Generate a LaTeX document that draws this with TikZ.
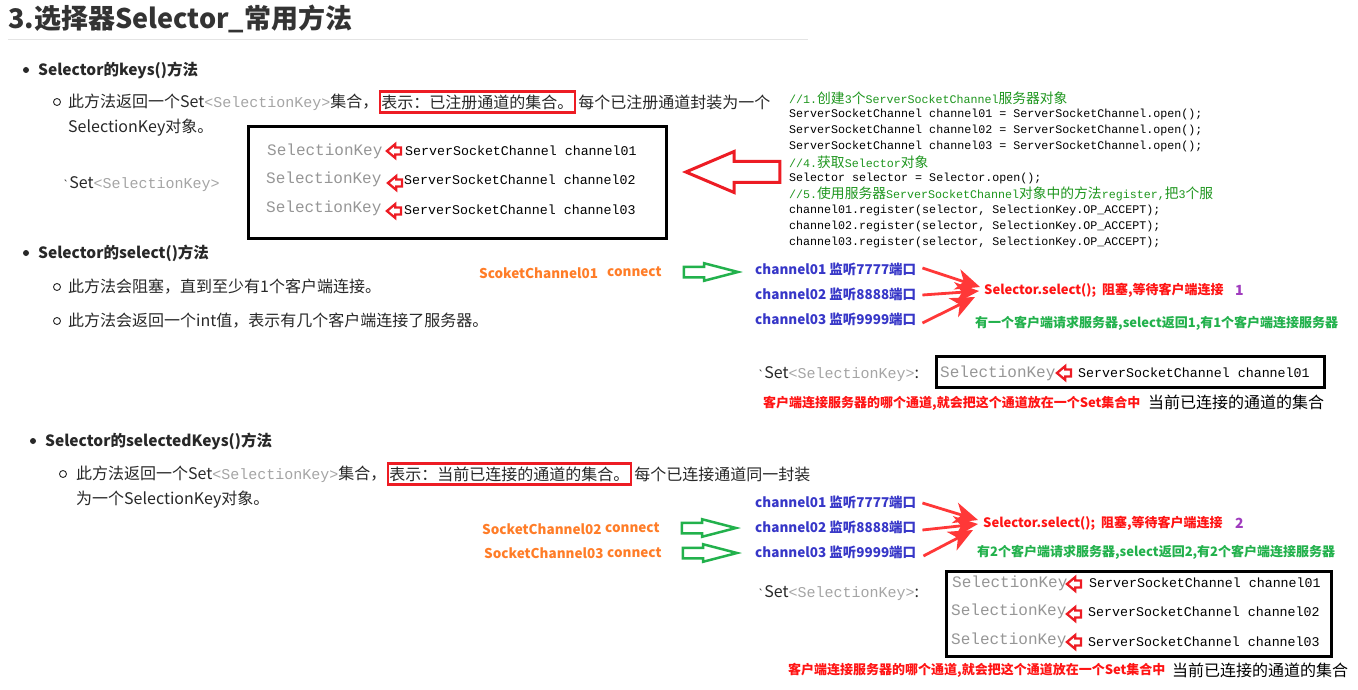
\documentclass[tikz,border=0pt]{standalone}
\usepackage{fontspec}
\setmainfont{Noto Sans CJK SC}
\newfontfamily\mono{Liberation Mono}
\newfontfamily\codezh[Scale=1.18]{Noto Sans CJK SC}
\usetikzlibrary{shapes.arrows,arrows.meta,calc}
\definecolor{bodyc}{RGB}{40,40,40}
\definecolor{titlec}{RGB}{51,51,51}
\definecolor{rulec}{RGB}{228,228,228}
\definecolor{skc}{RGB}{165,165,165}
\definecolor{keyc}{RGB}{150,150,150}
\definecolor{redbx}{RGB}{237,28,36}
\definecolor{redt}{RGB}{255,20,20}
\definecolor{swred}{RGB}{255,56,56}
\definecolor{bluec}{RGB}{55,55,200}
\definecolor{orangec}{RGB}{255,125,40}
\definecolor{greent}{RGB}{34,177,76}
\definecolor{greena}{RGB}{34,177,76}
\definecolor{purplec}{RGB}{160,60,190}
\definecolor{cmtc}{RGB}{30,150,30}
\newcommand\fs[1]{\fontsize{#1}{#1}\selectfont}
\newcommand\skey{\textcolor{skc}{\mono\fs{15}<SelectionKey>}}
\tikzset{
  txt/.style={anchor=west, inner sep=0pt, text=bodyc, font=\fs{16}},
  headt/.style={anchor=west, inner sep=0pt, text=bodyc, font=\fs{15.5}\bfseries},
  redbox/.style={anchor=west, draw=redbx, line width=2.5pt, inner xsep=1.5pt, inner ysep=3pt, text=bodyc, font=\fs{16}},
  codet/.style={anchor=west, inner sep=0pt, text=black, font=\mono\fs{11.67}},
  cmt/.style={codet, text=cmtc},
  keyg/.style={anchor=west, inner sep=0pt, text=keyc, font=\mono\fs{16}},
  sscn/.style={anchor=west, inner sep=0pt, text=black, font=\mono\fs{13.3}},
  bluet/.style={anchor=west, inner sep=0pt, text=bluec, font=\fs{13.5}\bfseries},
  oranget/.style={anchor=west, inner sep=0pt, text=orangec, font=\fs{13.5}\bfseries},
  redtt/.style={anchor=west, inner sep=0pt, text=redt, font=\fs{13}\bfseries},
  greentt/.style={anchor=west, inner sep=0pt, text=greent, font=\fs{13}\bfseries},
  purplet/.style={anchor=west, inner sep=0pt, text=purplec, font=\fs{14}\bfseries},
  blacknote/.style={anchor=west, inner sep=0pt, text=black, font=\fs{16}},
  blkbox/.style={draw=black, line width=3pt, anchor=north west, inner sep=0pt},
  bigarrow/.style={single arrow, draw=redbx, line width=3pt, inner xsep=0pt, inner ysep=9pt,
     single arrow head extend=10pt, single arrow tip angle=46, minimum height=94pt,
     minimum width=0pt, shape border rotate=180, anchor=tip},
  garrow/.style={single arrow, draw=greena, line width=2.5pt, inner xsep=0pt, inner ysep=4pt,
     single arrow head extend=3.5pt, single arrow tip angle=29, minimum height=54pt, minimum width=0pt,
     anchor=tail},
  smallarrow/.style={single arrow, draw=redbx, line width=2.3pt, inner xsep=0pt, inner ysep=2.3pt,
     single arrow head extend=3.5pt, single arrow tip angle=80, minimum height=14pt, minimum width=0pt,
     shape border rotate=180},
  swoosh/.style={draw=swred, line width=2.8pt, -{Stealth[length=24pt,width=21pt,inset=7pt]}},
  bul/.style={fill=bodyc},
  subbul/.style={draw=bodyc, line width=0.9pt},
}
\begin{document}
\begin{tikzpicture}[x=1pt,y=-1pt]
\useasboundingbox (0,0) rectangle (1358,690);
\fill[white] (0,0) rectangle (1358,690);

% title
\node[anchor=west, inner sep=0pt, text=titlec, font=\fs{27}\bfseries] (title) at (8,18.5) {3.选择器Selector\_常用方法};
\draw[rulec, line width=1pt] (8,40) -- (808,40);

% ---- keys()
\fill[bul] (26,70) circle (3);
\node[headt] (h1) at (38,70) {Selector的keys()方法};
\draw[subbul] (57,102) circle (3.5);
\node[txt] (k1a) at (68,102) {此方法返回一个Set\skey 集合，};
\node[redbox] (k1b) at (k1a.east) {表示：已注册通道的集合。};
\node[txt] (k1c) at ([xshift=2pt]k1b.east) {每个已注册通道封装为一个};
\node[txt] (k1d) at (68,128) {SelectionKey对象。};
\node[txt] (set1) at (63,184) {{\fs{10}\textasciigrave}Set\skey};

\node[blkbox, minimum width=418pt, minimum height=112pt] (box1) at (247,125) {};
\node[keyg] (b1k1) at (267,151) {SelectionKey};
\node[keyg] (b1k2) at (266,179) {SelectionKey};
\node[keyg] (b1k3) at (266,208) {SelectionKey};
\node[smallarrow] (b1a1) at (396,151) {};
\node[smallarrow] (b1a2) at (397,183) {};
\node[smallarrow] (b1a3) at (396,211) {};
\node[sscn] (b1s1) at (405,151) {ServerSocketChannel channel01};
\node[sscn] (b1s2) at (404,180) {ServerSocketChannel channel02};
\node[sscn] (b1s3) at (404,210) {ServerSocketChannel channel03};

\node[bigarrow] (bigarr) at (682,172) {};

% code
\node[cmt] (l1) at (789,98) {//1.{\codezh 创建}3{\codezh 个}ServerSocketChannel{\codezh 服务器对象}};
\node[codet] (l2) at (789,114) {ServerSocketChannel channel01 = ServerSocketChannel.open();};
\node[codet] (l3) at (789,130) {ServerSocketChannel channel02 = ServerSocketChannel.open();};
\node[codet] (l4) at (789,146) {ServerSocketChannel channel03 = ServerSocketChannel.open();};
\node[cmt] (l5) at (789,162) {//4.{\codezh 获取}Selector{\codezh 对象}};
\node[codet] (l6) at (789,178) {Selector selector = Selector.open();};
\node[cmt] (l7) at (789,194) {//5.{\codezh 使用服务器}ServerSocketChannel{\codezh 对象中的方法}register,{\codezh 把}3{\codezh 个服}};
\node[codet] (l8) at (789,210) {channel01.register(selector, SelectionKey.OP\_ACCEPT);};
\node[codet] (l9) at (789,226) {channel02.register(selector, SelectionKey.OP\_ACCEPT);};
\node[codet] (l10) at (789,242) {channel03.register(selector, SelectionKey.OP\_ACCEPT);};

% ---- select()
\fill[bul] (26,253) circle (3);
\node[headt] (h2) at (38,253) {Selector的select()方法};
\draw[subbul] (57,287) circle (3.5);
\node[txt] (s1) at (68,287) {此方法会阻塞，直到至少有1个客户端连接。};
\draw[subbul] (57,321) circle (3.5);
\node[txt] (s2) at (68,321) {此方法会返回一个int值，表示有几个客户端连接了服务器。};

\node[oranget] (sc1) at (479,273) {ScoketChannel01};
\node[oranget] (cn1) at (607,272) {connect};
\node[bluet] (c11) at (755,269) {channel01 监听7777端口};
\node[bluet] (c12) at (755,294) {channel02 监听8888端口};
\node[bluet] (c13) at (755,319) {channel03 监听9999端口};
\node[garrow] (ga1) at ([xshift=21pt]cn1.east) {};
\node[redtt] (sel1) at (984,290) {Selector.select();\ \ 阻塞,等待客户端连接};
\node[purplet] (n1) at (1235,290) {1};
\node[greentt] (g1) at (975,323) {有一个客户端请求服务器,select返回1,有1个客户端连接服务器};
\draw[swoosh] ($(c11.east)+(6,-1)$) -- ($(sel1.west)+(-4,-3)$);
\draw[swoosh] ($(c12.east)+(6,1)$) -- ($(sel1.west)+(-5,1)$);
\draw[swoosh] ($(c13.east)+(6,4)$) -- ($(sel1.west)+(-9,7)$);

\node[txt] (set2) at (758,374) {{\fs{10}\textasciigrave}Set\skey:};
\node[blkbox, minimum width=388pt, minimum height=31pt] (box2) at (935,355) {};
\node[keyg] (b2k1) at (940,373) {SelectionKey};
\node[smallarrow] (b2a1) at (1066,373) {};
\node[sscn] (b2s1) at (1078,373) {ServerSocketChannel channel01};
\node[redtt] (r1) at (763,403) {客户端连接服务器的哪个通道,就会把这个通道放在一个Set集合中};
\node[blacknote] (bn1) at (1148,402) {当前已连接的通道的集合};

% ---- selectedKeys()
\fill[bul] (33,441) circle (3);
\node[headt] (h3) at (45,441) {Selector的selectedKeys()方法};
\draw[subbul] (63,474) circle (3.5);
\node[txt] (k3a) at (76,474) {此方法返回一个Set\skey 集合，};
\node[redbox] (k3b) at (k3a.east) {表示：当前已连接的通道的集合。};
\node[txt] (k3c) at ([xshift=2pt]k3b.east) {每个已连接通道同一封装};
\node[txt] (k3d) at (76,500) {为一个SelectionKey对象。};

\node[bluet] (c21) at (755,502) {channel01 监听7777端口};
\node[bluet] (c22) at (755,527) {channel02 监听8888端口};
\node[bluet] (c23) at (755,552) {channel03 监听9999端口};
\node[oranget] (sc2) at (482,529) {SocketChannel02};
\node[oranget] (cn2) at (605,528) {connect};
\node[oranget] (sc3) at (484,553) {SocketChannel03};
\node[oranget] (cn3) at (607,553) {connect};
\node[garrow] (ga2) at ([xshift=21pt]cn2.east) {};
\node[garrow] (ga3) at ([xshift=20pt]cn3.east) {};
\node[redtt] (sel2) at (983,523) {Selector.select();\ \ 阻塞,等待客户端连接};
\node[purplet] (n2) at (1235,523) {2};
\node[greentt] (g2) at (977,552) {有2个客户端请求服务器,select返回2,有2个客户端连接服务器};
\draw[swoosh] ($(c21.east)+(6,1)$) -- ($(sel2.west)+(-5,-3)$);
\draw[swoosh] ($(c22.east)+(6,3)$) -- ($(sel2.west)+(-5,1)$);
\draw[swoosh] ($(c23.east)+(7,4)$) -- ($(sel2.west)+(-10,7)$);

\node[txt] (set3) at (758,593) {{\fs{10}\textasciigrave}Set\skey:};
\node[blkbox, minimum width=385pt, minimum height=85pt] (box3) at (945,570) {};
\node[keyg] (b3k1) at (952,583) {SelectionKey};
\node[keyg] (b3k2) at (951,611) {SelectionKey};
\node[keyg] (b3k3) at (951,640) {SelectionKey};
\node[smallarrow] (b3a1) at (1076,584) {};
\node[smallarrow] (b3a2) at (1076,614) {};
\node[smallarrow] (b3a3) at (1076,642) {};
\node[sscn] (b3s1) at (1089,583) {ServerSocketChannel channel01};
\node[sscn] (b3s2) at (1088,612) {ServerSocketChannel channel02};
\node[sscn] (b3s3) at (1088,642) {ServerSocketChannel channel03};
\node[redtt] (r2) at (788,670) {客户端连接服务器的哪个通道,就会把这个通道放在一个Set集合中};
\node[blacknote] (bn2) at (1172,670) {当前已连接的通道的集合};
\end{tikzpicture}
\end{document}
